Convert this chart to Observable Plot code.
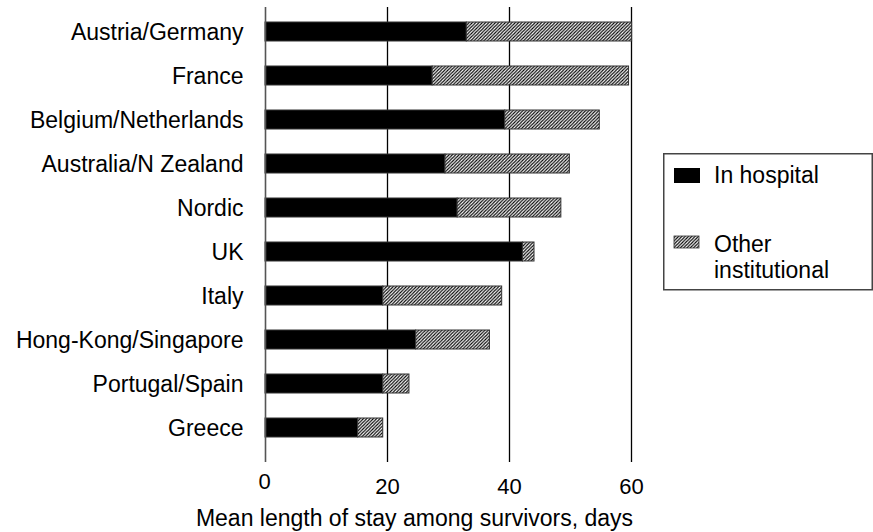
<!DOCTYPE html>
<html><head><meta charset="utf-8">
<script src="https://cdn.jsdelivr.net/npm/d3@7"></script>
<script src="https://cdn.jsdelivr.net/npm/@observablehq/plot@0.6"></script>
<style>
body{margin:0;background:#fff;font-family:"Liberation Sans",Arial,sans-serif;}
#wrap{position:relative;width:873px;height:532px;}
#legend{position:absolute;left:663px;top:153px;}
</style></head><body><div id="wrap"></div>
<script>
const countries = ["Austria/Germany","France","Belgium/Netherlands","Australia/N Zealand","Nordic","UK","Italy","Hong-Kong/Singapore","Portugal/Spain","Greece"];
const inHospital = [33.0, 27.4, 39.3, 29.5, 31.5, 42.2, 19.3, 24.7, 19.3, 15.2];
const otherInstitutional = [27.1, 32.2, 15.5, 20.4, 17.0, 1.9, 19.5, 12.1, 4.3, 4.1];
const zeroTick = [0];
const gridTicks = [20, 40, 60];
const seriesNames = ["In hospital", "Other", "institutional"];
const xTitle = "Mean length of stay among survivors, days";

const rows = countries.map((c, i) => ({
  country: c, hosp: inHospital[i], other: otherInstitutional[i],
  total: inHospital[i] + otherInstitutional[i]
}));

const chart = Plot.plot({
  width: 873, height: 532,
  marginLeft: 265, marginRight: 242, marginTop: 7, marginBottom: 70,
  style: {fontFamily: "'Liberation Sans', Arial, sans-serif", background: "white", color: "black", overflow: "visible"},
  x: {domain: [0, 60]},
  y: {domain: countries, paddingInner: 0.575, paddingOuter: 0.38, align: 0.38},
  marks: [
    Plot.ruleX(gridTicks, {stroke: "#000", strokeWidth: 1.3}),
    Plot.barX(rows, {y: "country", x1: 0, x2: "hosp", fill: "#000", stroke: "#333", strokeWidth: 1}),
    Plot.barX(rows, {y: "country", x1: "hosp", x2: "total", fill: "url(#hatch)", stroke: "#333", strokeWidth: 1}),
    Plot.ruleX(zeroTick, {stroke: "#555", strokeWidth: 1.6}),
    Plot.axisY({tickSize: 0, tickPadding: 22, fontSize: 23, label: null, dy: 1}),
    Plot.axisX(zeroTick, {tickSize: 0, tickPadding: 11, fontSize: 22, label: null, anchor: "bottom", dx: -1}),
    Plot.axisX(gridTicks, {tickSize: 0, tickPadding: 16, fontSize: 22, label: null, anchor: "bottom"}),
    Plot.text([xTitle], {frameAnchor: "bottom", lineAnchor: "bottom", dy: 63, dx: -34, fontSize: 23})
  ]
});

const defs = d3.select(chart).insert("defs", ":first-child");
const s = 3.3;
const pat = defs.append("pattern").attr("id", "hatch").attr("patternUnits", "userSpaceOnUse")
  .attr("width", s).attr("height", s);
pat.append("rect").attr("width", s).attr("height", s).attr("fill", "white");
pat.append("path").attr("d", `M-1,1 l2,-2 M0,${s} l${s},-${s} M${s - 1},${s + 1} l2,-2`)
  .attr("stroke", "black").attr("stroke-width", 1.15);

const wrap = document.getElementById("wrap");
wrap.appendChild(chart);

// legend
const leg = d3.select(wrap).append("svg").attr("id", "legend")
  .attr("width", 210).attr("height", 138)
  .style("font-family", "'Liberation Sans', Arial, sans-serif");
leg.append("rect").attr("x", 0.75).attr("y", 0.75).attr("width", 208.5).attr("height", 136)
  .attr("fill", "white").attr("stroke", "#444").attr("stroke-width", 1.5);
leg.append("rect").attr("x", 11).attr("y", 15).attr("width", 26).attr("height", 15).attr("fill", "#000");
leg.append("rect").attr("x", 11).attr("y", 83).attr("width", 25).attr("height", 12)
  .attr("fill", "url(#hatch)").attr("stroke", "#333").attr("stroke-width", 0.8);
leg.append("text").attr("x", 51).attr("y", 30).attr("font-size", 23).text(seriesNames[0]);
leg.append("text").attr("x", 51).attr("y", 99).attr("font-size", 23).text(seriesNames[1]);
leg.append("text").attr("x", 51).attr("y", 125).attr("font-size", 23).text(seriesNames[2]);
</script></body></html>
